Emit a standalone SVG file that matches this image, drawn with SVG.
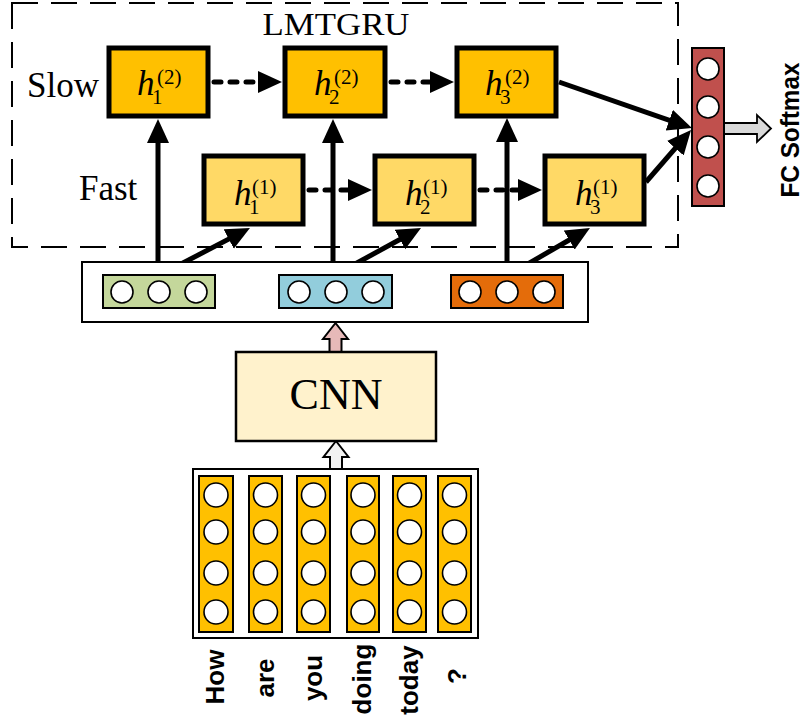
<svg xmlns="http://www.w3.org/2000/svg" width="803" height="719" viewBox="0 0 803 719">
  <style>
    .slow { fill: #FFC000; stroke: #000; stroke-width: 5; }
    .fast { fill: #FFD966; stroke: #000; stroke-width: 5; }
    .vec { stroke: #000; stroke-width: 2; }
    .dot { fill: #fff; stroke: #000; stroke-width: 1.6; }
    .word { fill: #FFC000; stroke: #000; stroke-width: 2; }
    .serif { font-family: "Liberation Serif", "Times New Roman", serif; fill: #000; }
    .hvar { font-family: "Liberation Serif", "Times New Roman", serif; font-style: italic; font-size: 35px; }
    .idx { font-family: "Liberation Serif", "Times New Roman", serif; font-size: 21px; }
    .bold { font-family: "Liberation Sans", Arial, sans-serif; font-weight: bold; fill: #000; }
    .link { stroke: #000; stroke-width: 5; fill: none; marker-end: url(#ah); }
    .dotted { stroke: #000; stroke-width: 5; fill: none; stroke-dasharray: 7 9; stroke-linecap: round; marker-end: url(#ah); }
  </style>
  <defs>
    <marker id="ah" markerUnits="userSpaceOnUse" markerWidth="26" markerHeight="24" refX="14" refY="11" orient="auto">
      <path d="M0,0 L24,11 L0,22 Z" fill="#000"/>
    </marker>
  </defs>

  <rect width="803" height="719" fill="#fff"/>

  <!-- LMTGRU frame -->
  <g id="lmtgru-frame">
    <rect x="12" y="3" width="666" height="244" fill="none" stroke="#000" stroke-width="2" stroke-dasharray="26 13"/>
    <text class="serif" x="336" y="35" font-size="32" text-anchor="middle" textLength="147" lengthAdjust="spacingAndGlyphs">LMTGRU</text>
    <text class="serif" x="27" y="97" font-size="35">Slow</text>
    <text class="serif" x="79" y="200" font-size="35">Fast</text>
  </g>

  <!-- connectors -->
  <g id="connectors">
    <!-- embeddings to slow layer -->
    <line class="link" x1="158" y1="276" x2="158" y2="129"/>
    <line class="link" x1="333" y1="276" x2="333" y2="129"/>
    <line class="link" x1="507" y1="276" x2="507" y2="128"/>
    <!-- embeddings to fast layer -->
    <line class="link" x1="158" y1="276" x2="241.1" y2="232.6"/>
    <line class="link" x1="333" y1="276" x2="412.2" y2="232.8"/>
    <line class="link" x1="507" y1="276" x2="581.3" y2="233"/>
    <!-- recurrent links -->
    <line class="dotted" x1="214" y1="82" x2="272" y2="82"/>
    <line class="dotted" x1="391" y1="82" x2="444" y2="82"/>
    <line class="dotted" x1="309" y1="190" x2="362" y2="190"/>
    <line class="dotted" x1="480" y1="190" x2="532" y2="190"/>
    <!-- last states to classifier -->
    <line class="link" x1="559" y1="82" x2="682.5" y2="124.8"/>
    <line class="link" x1="646" y1="182" x2="684.5" y2="137.6"/>
    <!-- block arrows -->
    <path d="M329.5,352 L329.5,339 L323,339 L335.5,323 L348,339 L341.5,339 L341.5,352 Z" fill="#E6B9B8" stroke="#000" stroke-width="2"/>
    <path d="M330,470 L330,457 L323.5,457 L336,441 L348.5,457 L342,457 L342,470 Z" fill="#F2F2F2" stroke="#000" stroke-width="2"/>
    <path d="M724,123 L757,123 L757,115 L771,128.5 L757,142 L757,134 L724,134 Z" fill="#D9D9D9" stroke="#000" stroke-width="1.8"/>
  </g>

  <!-- slow layer -->
  <g id="h1-slow">
    <rect class="slow" x="109" y="48" width="99" height="68"/>
    <text class="hvar" x="137" y="95">h</text><text class="idx" x="152" y="104">1</text><text class="idx" x="157" y="84">(2)</text>
  </g>
  <g id="h2-slow">
    <rect class="slow" x="285" y="48" width="100" height="68"/>
    <text class="hvar" x="314" y="95">h</text><text class="idx" x="329" y="104">2</text><text class="idx" x="334" y="84">(2)</text>
  </g>
  <g id="h3-slow">
    <rect class="slow" x="457" y="48" width="99" height="68"/>
    <text class="hvar" x="485" y="95">h</text><text class="idx" x="500" y="104">3</text><text class="idx" x="505" y="84">(2)</text>
  </g>

  <!-- fast layer -->
  <g id="h1-fast">
    <rect class="fast" x="204" y="156" width="99" height="68"/>
    <text class="hvar" x="234" y="205">h</text><text class="idx" x="249" y="214">1</text><text class="idx" x="252" y="194">(1)</text>
  </g>
  <g id="h2-fast">
    <rect class="fast" x="375" y="156" width="99" height="68"/>
    <text class="hvar" x="405" y="205">h</text><text class="idx" x="420" y="214">2</text><text class="idx" x="423" y="194">(1)</text>
  </g>
  <g id="h3-fast">
    <rect class="fast" x="545" y="156" width="99" height="68"/>
    <text class="hvar" x="575" y="205">h</text><text class="idx" x="590" y="214">3</text><text class="idx" x="593" y="194">(1)</text>
  </g>

  <!-- FC softmax layer -->
  <g id="fc-softmax">
    <rect x="692" y="48" width="32" height="158" fill="#C0504D" stroke="#000" stroke-width="2"/>
    <circle class="dot" cx="708" cy="69" r="11"/>
    <circle class="dot" cx="708" cy="107" r="11"/>
    <circle class="dot" cx="708" cy="147" r="11"/>
    <circle class="dot" cx="708" cy="186" r="11"/>
    <text class="bold" transform="translate(799,130) rotate(-90)" font-size="25" text-anchor="middle" textLength="135" lengthAdjust="spacingAndGlyphs">FC Softmax</text>
  </g>

  <!-- CNN feature vectors -->
  <g id="features">
    <rect x="82" y="262" width="506" height="60" fill="#fff" stroke="#000" stroke-width="2"/>
    <rect class="vec" x="103" y="275" width="112" height="33" fill="#C4D79B"/>
    <circle class="dot" cx="122" cy="292" r="11"/>
    <circle class="dot" cx="159" cy="292" r="11"/>
    <circle class="dot" cx="196" cy="292" r="11"/>
    <rect class="vec" x="279" y="275" width="113" height="33" fill="#92CDDC"/>
    <circle class="dot" cx="299" cy="292" r="11"/>
    <circle class="dot" cx="336" cy="292" r="11"/>
    <circle class="dot" cx="373" cy="292" r="11"/>
    <rect class="vec" x="451" y="275" width="112" height="33" fill="#E46C0A"/>
    <circle class="dot" cx="470" cy="292" r="11"/>
    <circle class="dot" cx="507" cy="292" r="11"/>
    <circle class="dot" cx="544" cy="292" r="11"/>
  </g>

  <!-- CNN -->
  <g id="cnn">
    <rect x="236" y="352" width="200" height="89" fill="#FFF2CC" stroke="#000" stroke-width="2.5"/>
    <text class="serif" x="336" y="409" font-size="44" text-anchor="middle">CNN</text>
  </g>

  <!-- word embeddings -->
  <g id="words">
    <rect x="193" y="469" width="285" height="169" fill="#fff" stroke="#000" stroke-width="2"/>
    <rect class="word" x="199" y="476" width="34" height="156"/>
    <rect class="word" x="249" y="476" width="33" height="156"/>
    <rect class="word" x="297" y="476" width="33" height="156"/>
    <rect class="word" x="347" y="476" width="32" height="156"/>
    <rect class="word" x="393" y="476" width="33" height="156"/>
    <rect class="word" x="438" y="476" width="33" height="156"/>
    <g>
      <circle class="dot" cx="216" cy="495" r="12"/><circle class="dot" cx="216" cy="532" r="12"/><circle class="dot" cx="216" cy="573" r="12"/><circle class="dot" cx="216" cy="612" r="12"/>
      <circle class="dot" cx="265.5" cy="495" r="12"/><circle class="dot" cx="265.5" cy="532" r="12"/><circle class="dot" cx="265.5" cy="573" r="12"/><circle class="dot" cx="265.5" cy="612" r="12"/>
      <circle class="dot" cx="313.5" cy="495" r="12"/><circle class="dot" cx="313.5" cy="532" r="12"/><circle class="dot" cx="313.5" cy="573" r="12"/><circle class="dot" cx="313.5" cy="612" r="12"/>
      <circle class="dot" cx="363" cy="495" r="12"/><circle class="dot" cx="363" cy="532" r="12"/><circle class="dot" cx="363" cy="573" r="12"/><circle class="dot" cx="363" cy="612" r="12"/>
      <circle class="dot" cx="409.5" cy="495" r="12"/><circle class="dot" cx="409.5" cy="532" r="12"/><circle class="dot" cx="409.5" cy="573" r="12"/><circle class="dot" cx="409.5" cy="612" r="12"/>
      <circle class="dot" cx="454.5" cy="495" r="12"/><circle class="dot" cx="454.5" cy="532" r="12"/><circle class="dot" cx="454.5" cy="573" r="12"/><circle class="dot" cx="454.5" cy="612" r="12"/>
    </g>
    <text class="bold" font-size="26" text-anchor="middle" transform="translate(224,677) rotate(-90)">How</text>
    <text class="bold" font-size="26" text-anchor="middle" transform="translate(274,678) rotate(-90)">are</text>
    <text class="bold" font-size="26" text-anchor="middle" transform="translate(322,678) rotate(-90)">you</text>
    <text class="bold" font-size="26" text-anchor="middle" transform="translate(371,679) rotate(-90)">doing</text>
    <text class="bold" font-size="26" text-anchor="middle" transform="translate(418,680) rotate(-90)">today</text>
    <text class="bold" font-size="26" text-anchor="middle" transform="translate(466,676) rotate(-90)">?</text>
  </g>
</svg>
